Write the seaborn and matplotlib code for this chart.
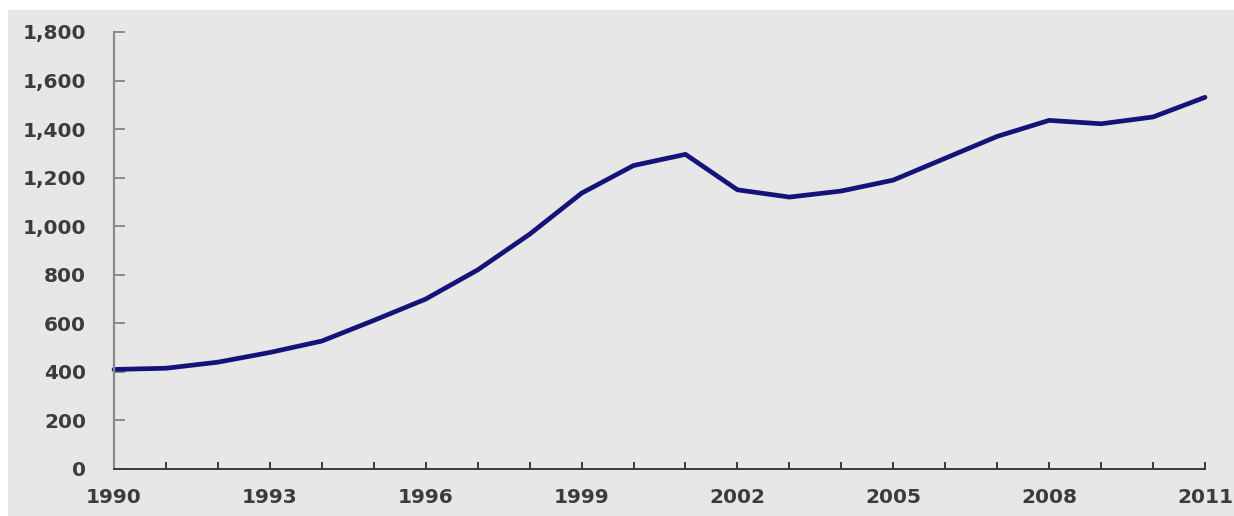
import matplotlib
matplotlib.use("Agg")
import matplotlib.pyplot as plt
from matplotlib.patches import Rectangle
from matplotlib.ticker import FixedLocator, MultipleLocator, FuncFormatter
import seaborn as sns
import pandas as pd

years = list(range(1990, 2012))
values = [410, 415, 440, 480, 527, 612, 700, 820, 967, 1136, 1250, 1296,
          1150, 1120, 1145, 1190, 1280, 1370, 1436, 1422, 1450, 1531]
labeled_years = years[::3]

df = pd.DataFrame({"year": years, "value": values})

sns.set_theme(style="white")
plt.rcParams["font.family"] = ["DejaVu Sans"]

bg = "#e7e7e7"
fig = plt.figure(figsize=(12.34, 5.16), dpi=100, facecolor="white")
fig.patches.append(Rectangle((8 / 1234, 0), 1 - 8 / 1234, 1 - 10 / 516,
                             transform=fig.transFigure, facecolor=bg,
                             edgecolor="none", zorder=-10))
ax = fig.add_axes([114 / 1234, 1 - 469 / 516, (1205 - 114) / 1234, (469 - 32) / 516])
ax.set_facecolor("none")

sns.lineplot(data=df, x="year", y="value", ax=ax, color="#13137a",
             linewidth=3.4, clip_on=False)

ax.set_xlim(1990, 2011)
ax.set_ylim(0, 1800)
ax.xaxis.set_major_locator(FixedLocator(labeled_years))
ax.xaxis.set_minor_locator(FixedLocator(years))
ax.yaxis.set_major_locator(MultipleLocator(200))
ax.yaxis.set_major_formatter(FuncFormatter(lambda v, p: f"{int(v):,}"))
ax.xaxis.set_major_formatter(FuncFormatter(lambda v, p: f"{int(v)}"))

ax.set_xlabel("")
ax.set_ylabel("")
for s in ("top", "right"):
    ax.spines[s].set_visible(False)
ax.spines["left"].set_color("#8a8a8a")
ax.spines["left"].set_linewidth(1.6)
ax.spines["bottom"].set_color("#3a3a3a")
ax.spines["bottom"].set_linewidth(1.4)

label_kw = dict(labelsize=14.5, labelcolor="#3c3c3c")
ax.tick_params(axis="x", which="both", bottom=True, direction="in", length=5,
               width=1.4, color="#3a3a3a", pad=14, **label_kw)
ax.tick_params(axis="y", which="major", left=True, direction="in", length=8,
               width=1.4, color="#8a8a8a", pad=20, **label_kw)
for t in ax.get_xticklabels() + ax.get_yticklabels():
    t.set_fontweight("bold")

fig.savefig("out.png", dpi=100, facecolor="white")
